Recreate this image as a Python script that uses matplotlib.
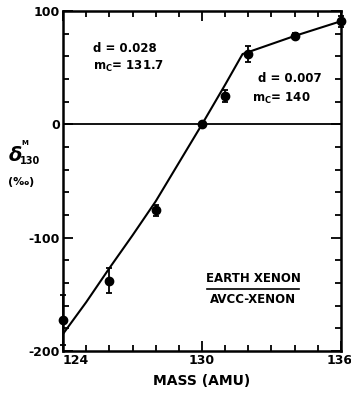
import numpy as np
import matplotlib
matplotlib.use("Agg")
import matplotlib.pyplot as plt
import matplotlib.transforms as mtrans

# measured isotope points (mass, delta per mil, error)
mass = [124, 126, 128, 130, 131, 132, 134, 136]
delta = [-173, -138, -76, 0, 25, 62, 78, 91]
err = [22, 11, 5, 0, 5, 7, 3, 5]

# fitted fractionation curve
curve_mass = [124, 125, 126, 127, 128, 129, 130, 131, 131.75, 134, 136]
curve_delta = [-185, -157, -127, -98, -68, -34, 0, 35, 62, 78, 91]

plt.rcParams['font.family'] = 'DejaVu Sans'
plt.rcParams['font.weight'] = 'bold'
plt.rcParams['axes.unicode_minus'] = False

fig = plt.figure(figsize=(3.51, 3.93), dpi=100)
ax = fig.add_axes([0.1795, 0.107, 0.792, 0.865])

ax.axhline(0, color='black', lw=1.3, zorder=1)
ax.plot(curve_mass, curve_delta, color='black', lw=1.5, zorder=3)
ax.errorbar(mass, delta, yerr=err, fmt='o', color='black', ms=6,
            capsize=2.5, elinewidth=1.3, capthick=1.3,
            zorder=4, clip_on=False)

ax.set_xlim(124, 136)
ax.set_ylim(-200, 100)
ax.set_xticks([124, 130, 136])
ax.set_xticks(np.arange(124, 137, 1), minor=True)
ax.set_yticks([-200, -100, 0, 100])
ax.set_yticks(np.arange(-200, 101, 20), minor=True)
ax.tick_params(which='both', direction='in', top=True, right=True,
               width=1.3, labelsize=9, pad=2)
ax.tick_params(which='major', length=7)
ax.tick_params(which='minor', length=4)
for s in ax.spines.values():
    s.set_linewidth(1.8)
xl = ax.get_xticklabels()
xl[0].set_ha('left')
# last label sits against the right edge, nudge it in a bit
xl[-1].set_ha('right')
xl[-1].set_transform(xl[-1].get_transform() +
                     mtrans.ScaledTranslation(8 / 72, 0, fig.dpi_scale_trans))

ax.set_xlabel('MASS (AMU)', fontsize=10, fontweight='bold', labelpad=5)

fig.text(0.022, 0.59, r'$\delta$', fontsize=14)
fig.text(0.06, 0.63, 'M', fontsize=5)
fig.text(0.057, 0.582, '130', fontsize=7)
fig.text(0.022, 0.528, '(‰)', fontsize=8)

ax.text(125.3, 64, 'd = 0.028', fontsize=8.5)
ax.text(125.3, 48, r'm$_\mathbf{C}$= 131.7', fontsize=8.5)
ax.text(132.4, 37, 'd = 0.007', fontsize=8.5)
ax.text(132.15, 20, r'm$_\mathbf{C}$= 140', fontsize=8.5)

ax.text(132.2, -142, 'EARTH XENON', fontsize=8.5, ha='center', va='bottom')
ax.plot([130.2, 134.2], [-145, -145], color='black', lw=1.2)
ax.text(132.2, -149, 'AVCC-XENON', fontsize=8.5, ha='center', va='top')

fig.savefig('out.png', dpi=100)
